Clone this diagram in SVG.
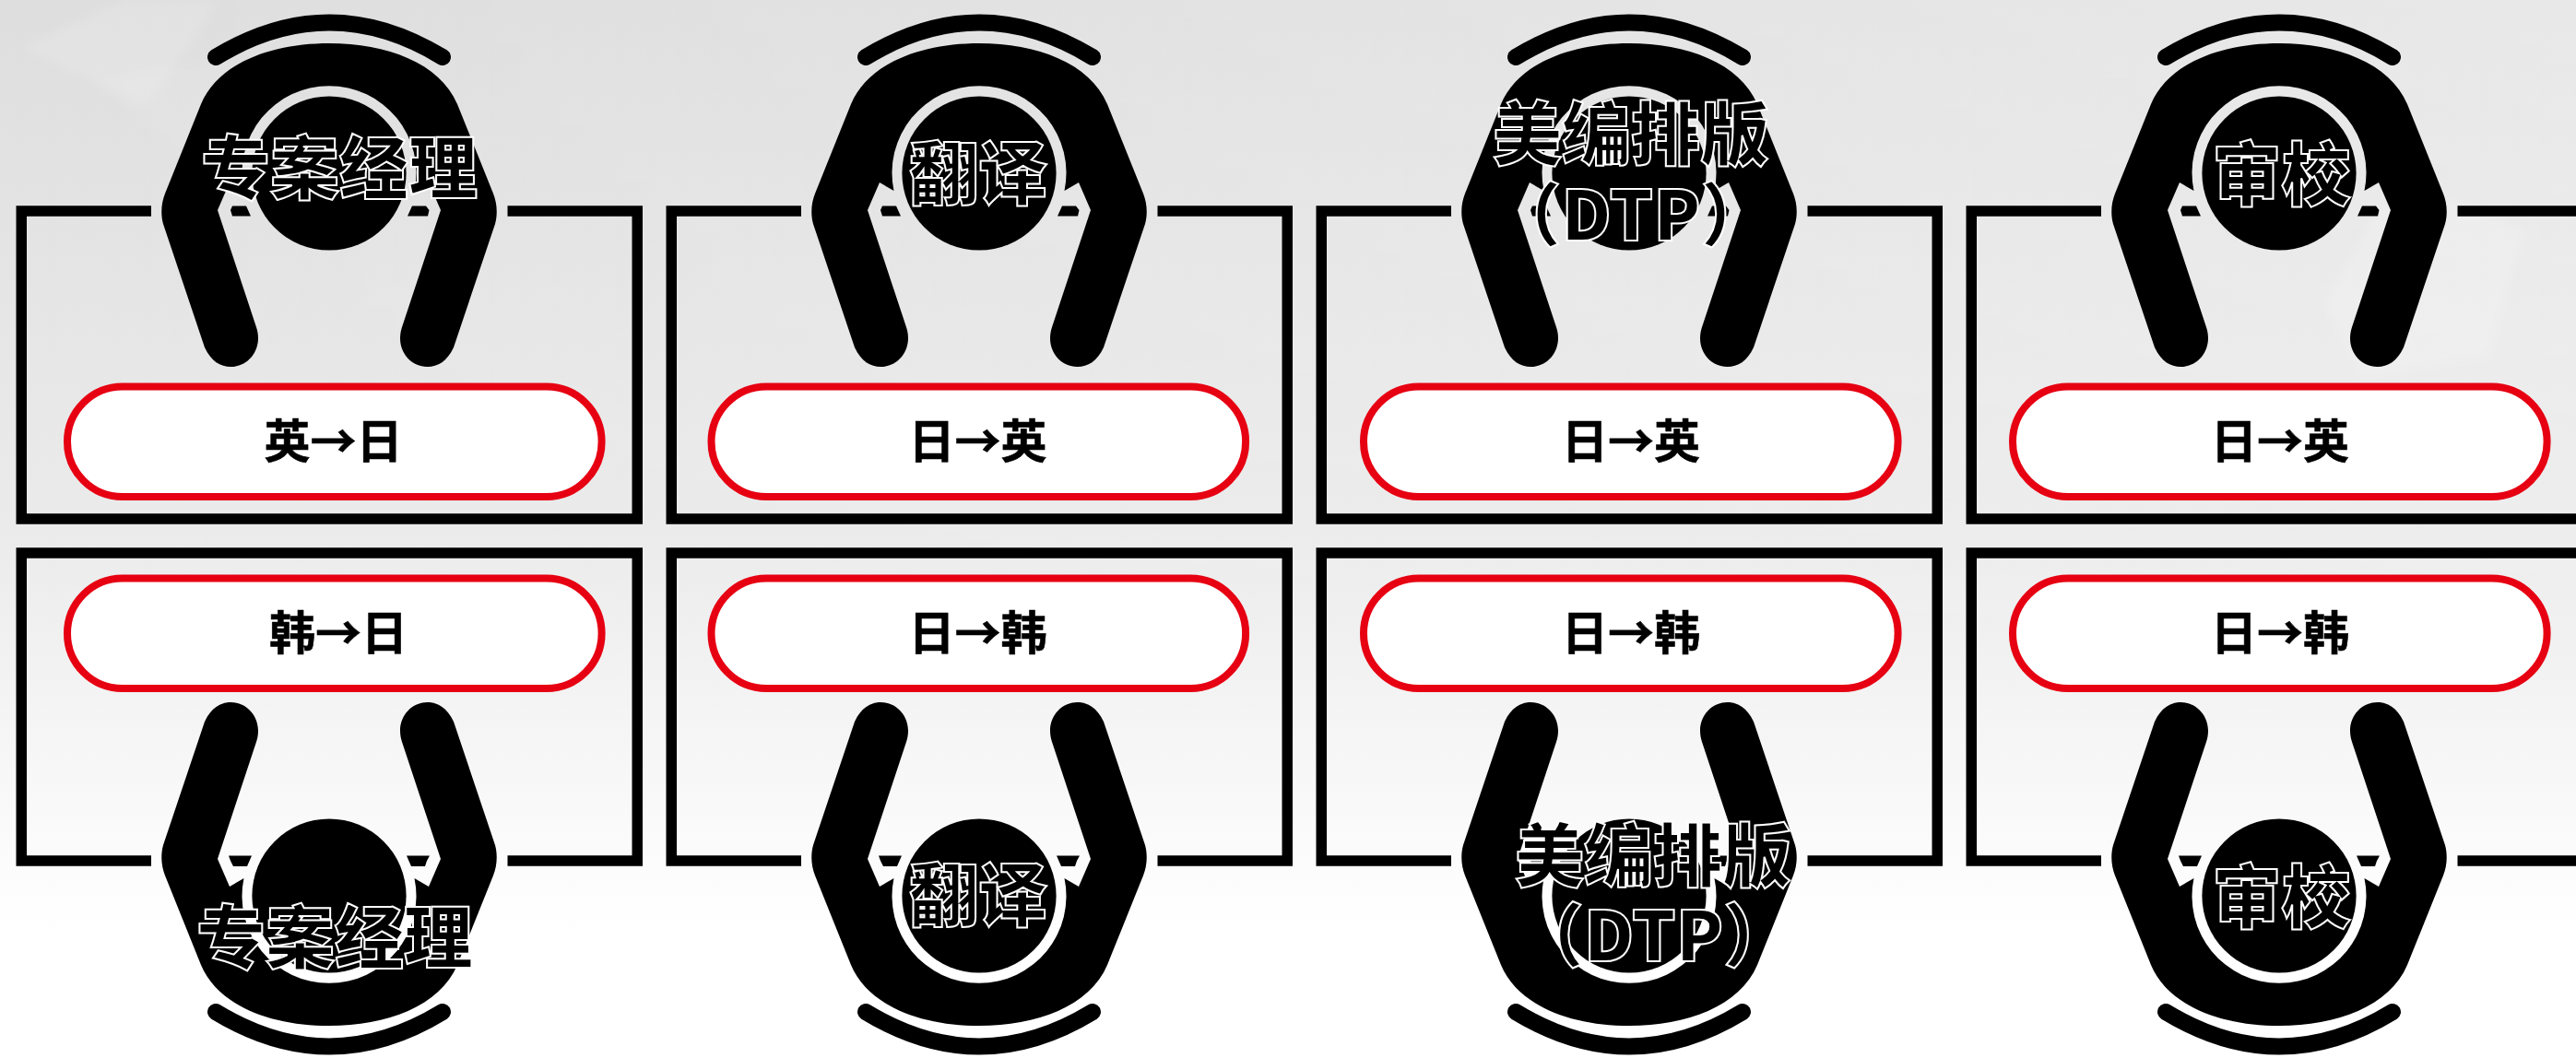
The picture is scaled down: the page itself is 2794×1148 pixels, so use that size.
<svg xmlns="http://www.w3.org/2000/svg" width="2794" height="1148" viewBox="0 0 2794 1148">
<style>
.ink{fill:#000}
.frame{fill:none;stroke:#000;stroke-width:11.5;stroke-linejoin:miter}
.bit{fill:#000}
.rest{fill:none;stroke:#000;stroke-width:18;stroke-linecap:round}
.pill{fill:#fff;stroke:#e60012;stroke-width:8}
.lang{font-family:"Noto Sans CJK SC","Noto Sans",sans-serif;font-weight:700;font-size:50px;text-anchor:middle;fill:#000;stroke:#000;stroke-width:0.6}
.role{font-family:"Noto Sans CJK SC","Noto Sans",sans-serif;font-weight:900;font-size:75px;text-anchor:middle;fill:#000;stroke:#fff;stroke-width:2;stroke-linejoin:miter}
</style>
<defs>
<linearGradient id="bg" x1="0" y1="0" x2="0" y2="1">
<stop offset="0" stop-color="#dedede"/>
<stop offset="0.5" stop-color="#ebebeb"/>
<stop offset="0.8" stop-color="#fbfbfb"/>
<stop offset="0.88" stop-color="#fff"/>
</linearGradient>
<linearGradient id="bgx" x1="0" y1="0" x2="1" y2="0">
<stop offset="0" stop-color="#fff" stop-opacity="0"/>
<stop offset="1" stop-color="#fff" stop-opacity="0.32"/>
</linearGradient>
<linearGradient id="fade" x1="0" y1="0" x2="0" y2="1">
<stop offset="0" stop-color="#fff"/>
<stop offset="0.5" stop-color="#fff" stop-opacity="0.75"/>
<stop offset="1" stop-color="#fff" stop-opacity="0"/>
</linearGradient>
<mask id="fadeMask" maskUnits="userSpaceOnUse" x="0" y="0" width="2794" height="800"><rect width="2794" height="800" fill="url(#fade)"/></mask>
<filter id="soft" x="-20%" y="-20%" width="140%" height="140%"><feGaussianBlur stdDeviation="6"/></filter>
<g id="person">
<path class="rest" d="M-123 62Q0-13 123 62"/>
<path class="ink" d="M0 47C62 47 120 68 139 113L178 210C182 220 183 232 180 243L135 377C128 392 118 398 106.5 398C90 398 77 384 77 367C77 362 78 358 79 355L121 228L108 198L92.5 207A94.5 94.5 0 1 0-92.500 207L-108 198L-121 228L-79 355C-78 358-77 362-77 367C-77 384-90 398-106.500 398C-118 398-128 392-135 377L-180 243C-183 232-182 220-178 210L-139 113C-120 68-62 47 0 47Z"/>
<circle class="ink" cx="0" cy="188" r="83.6"/>
</g>
<g id="frame-top">
<path class="frame" d="M164 229H23.25V563H691.25V229H550.5"/>
<path class="bit" d="M252 223.500H267L272 234.500H252L250 228ZM447 223.500H462L465.500 228L464 234.500H442Z"/>
</g>
<g id="frame-bottom">
<path class="frame" d="M164 934H23.25V600H691.25V934H550.5"/>
<path class="bit" d="M248 928.500H273L268 940H253L250 934ZM441 928.500H466L463 934L461 940H446Z"/>
</g>
</defs>
<rect width="2794" height="1148" fill="url(#bg)"/>
<rect width="2794" height="800" fill="url(#bgx)" mask="url(#fadeMask)"/>
<g id="background-streaks" fill="#fff" filter="url(#soft)">
<polygon points="133,0 239,0 160,115 23,52" opacity="0.14"/>
<polygon points="105,90 250,60 360,240 240,210" opacity="0.07"/>
<polygon points="2600,190 2740,250 2700,390 2560,410 2520,330" opacity="0.16"/>
</g>

<g id="col1-top">
<use href="#frame-top"/><use href="#person" transform="translate(357 0)"/>
<rect class="pill" x="73" y="419.500" width="579.600" height="119.500" rx="59.750" ry="59.750"/>
<text class="lang" x="361.500" y="497">英→日</text>
<text class="role" x="368" y="209.500">专案经理</text>
</g>
<g id="col1-bottom">
<use href="#frame-bottom"/><use href="#person" transform="translate(357 1160) scale(1 -1)"/>
<rect class="pill" x="73" y="627.500" width="579.600" height="119.500" rx="59.750" ry="59.750"/>
<text class="lang" x="367" y="705">韩→日</text>
<text class="role" x="363" y="1044.500">专案经理</text>
</g>

<g id="col2-top">
<use href="#frame-top" transform="translate(705 0)"/><use href="#person" transform="translate(1062 0)"/>
<rect class="pill" x="771.500" y="419.500" width="579.600" height="119.500" rx="59.750" ry="59.750"/>
<text class="lang" x="1060.500" y="497">日→英</text>
<text class="role" x="1061" y="216">翻译</text>
</g>
<g id="col2-bottom">
<use href="#frame-bottom" transform="translate(705 0)"/><use href="#person" transform="translate(1062 1160) scale(1 -1)"/>
<rect class="pill" x="771.500" y="627.500" width="579.600" height="119.500" rx="59.750" ry="59.750"/>
<text class="lang" x="1060.500" y="705">日→韩</text>
<text class="role" x="1061" y="999">翻译</text>
</g>

<g id="col3-top">
<use href="#frame-top" transform="translate(1410 0)"/><use href="#person" transform="translate(1767 0)"/>
<rect class="pill" x="1479" y="419.500" width="579.600" height="119.500" rx="59.750" ry="59.750"/>
<text class="lang" x="1769" y="497">日→英</text>
<text class="role" x="1769" y="172.500">美编排版</text>
<text class="role" x="1769" y="260.500">（DTP）</text>
</g>
<g id="col3-bottom">
<use href="#frame-bottom" transform="translate(1410 0)"/><use href="#person" transform="translate(1767 1160) scale(1 -1)"/>
<rect class="pill" x="1479" y="627.500" width="579.600" height="119.500" rx="59.750" ry="59.750"/>
<text class="lang" x="1769" y="705">日→韩</text>
<text class="role" x="1793" y="955.500">美编排版</text>
<text class="role" x="1793.500" y="1043">（DTP）</text>
</g>

<g id="col4-top">
<use href="#frame-top" transform="translate(2115 0)"/><use href="#person" transform="translate(2472 0)"/>
<rect class="pill" x="2183" y="419.500" width="579.600" height="119.500" rx="59.750" ry="59.750"/>
<text class="lang" x="2473" y="497">日→英</text>
<text class="role" x="2474.500" y="216.500">审校</text>
</g>
<g id="col4-bottom">
<use href="#frame-bottom" transform="translate(2115 0)"/><use href="#person" transform="translate(2472 1160) scale(1 -1)"/>
<rect class="pill" x="2183" y="627.500" width="579.600" height="119.500" rx="59.750" ry="59.750"/>
<text class="lang" x="2473" y="705">日→韩</text>
<text class="role" x="2474.500" y="1001">审校</text>
</g>
</svg>
